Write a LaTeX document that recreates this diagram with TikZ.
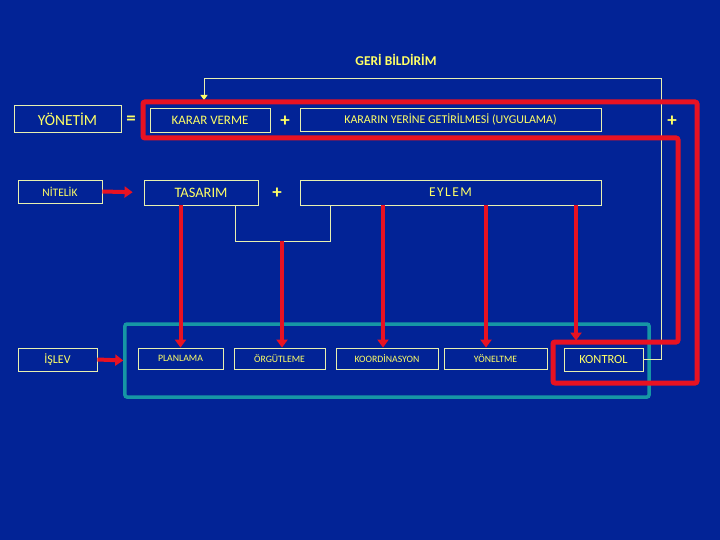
\documentclass[tikz,border=0pt]{standalone}
\usepackage{fontspec}
\setmainfont{Carlito}
\usetikzlibrary{arrows.meta, positioning}
\definecolor{slide}{RGB}{2,35,150}
\definecolor{txtyel}{RGB}{255,255,102}
\definecolor{boxline}{RGB}{232,240,175}
\definecolor{redline}{RGB}{232,18,34}
\definecolor{tealline}{RGB}{22,150,165}

\begin{document}
\begin{tikzpicture}[x=1bp, y=-1bp,
  box/.style={draw=boxline, line width=0.8bp, inner sep=0pt, text=txtyel, align=center},
  big/.style={font=\fontsize{15.5}{15.5}\selectfont},
  mid/.style={font=\fontsize{13.5}{13.5}\selectfont},
  sml/.style={font=\fontsize{9.8}{9.8}\selectfont},
  sign/.style={text=txtyel, inner sep=0pt, font=\fontsize{19}{19}\selectfont\bfseries},
  redarr/.style={draw=redline, line width=4bp, -{Triangle[length=8bp,width=11bp]}},
  fb/.style={draw=boxline, line width=0.8bp, -{Triangle[length=5bp,width=7bp,color=txtyel]}}
]
\fill[slide] (0,0) rectangle (720,540);

% top row
\node[box, big, minimum width=107bp, minimum height=27bp] (yon) at (67.5,119) {YÖNETİM};
\node[sign] (eq) at (131,120) {=};
\node[box, font=\fontsize{13}{13}\selectfont, minimum width=120bp, minimum height=24bp] (karar) at (210,120) {KARAR VERME};
\node[sign] (plus1) at (285,121) {+};
\node[box, font=\fontsize{12}{12}\selectfont, minimum width=301bp, minimum height=23bp] (uyg) at (450.5,119.5) {KARARIN YERİNE GETİRİLMESİ (UYGULAMA)};
\node[sign] (plus2) at (672,121) {+};
\node[text=txtyel, font=\fontsize{13.5}{13.5}\selectfont\bfseries] (geri) at (396,60) {GERİ BİLDİRİM};

% middle row
\node[box, font=\fontsize{11.5}{11.5}\selectfont, minimum width=84bp, minimum height=23bp] (nit) at (60,191.5) {NİTELİK};
\node[box, font=\fontsize{14.5}{14.5}\selectfont, minimum width=114bp, minimum height=25bp] (tas) at (201,192.5) {TASARIM};
\node[sign] (plus3) at (277,193) {+};
\node[box, mid, minimum width=301bp, minimum height=25bp] (eylem) at (450.5,192.5)
  {E\hspace{1.5bp}Y\hspace{1.5bp}L\hspace{1.5bp}E\hspace{1.5bp}M};
\coordinate (brl) at (235,241);
\coordinate (brr) at (330,241);
\draw[boxline, line width=0.8bp] (tas.south -| brl) |- (brr) -- (eylem.south -| brr);

% bottom row
\node[box, font=\fontsize{12}{12}\selectfont, minimum width=79bp, minimum height=23bp] (islev) at (57.5,359.5) {İŞLEV};
\node[draw=tealline, line width=3.5bp, rounded corners=2bp, minimum width=524bp, minimum height=73bp] (grp) at (387,360.5) {};
\node[box, sml, minimum width=85bp, minimum height=21bp] (plan) at (180.5,358.5) {PLANLAMA};
\node[box, sml, minimum width=91bp, minimum height=21bp] (orgut) at (279.5,358.5) {ÖRGÜTLEME};
\node[box, sml, minimum width=102bp, minimum height=21bp] (koord) at (387,358.5) {KOORDİNASYON};
\node[box, sml, minimum width=103bp, minimum height=21bp] (yonelt) at (495.5,358.5) {YÖNELTME};
\node[box, font=\fontsize{12.5}{12.5}\selectfont, minimum width=79bp, minimum height=23bp] (kontrol) at (603.5,359.5) {KONTROL};

% feedback loop
\coordinate (fbtop) at (661,78);
\coordinate (fbend) at (204,100);
\draw[fb] (kontrol.east) -| (fbtop) -| (fbend);

% red frame
\draw[redline, line width=5bp, rounded corners=2bp] (143,102) -- (697,102) -- (697,383) -- (553,383)
  -- (553,342) -- (678,342) -- (678,138) -- (143,138) -- cycle;

% red arrows
\draw[redarr, shorten >=11bp] (nit.east) -- (tas.west);
\draw[redarr] (islev.east) -- (grp.west);
\draw[redarr] (tas.south -| plan.north) -- (plan.north);
\draw[redarr] ([xshift=2.5bp]orgut.north |- brr) -- ([xshift=2.5bp]orgut.north);
\draw[redarr] ([xshift=-4bp]koord.north |- eylem.south) -- ([xshift=-4bp]koord.north);
\draw[redarr] ([xshift=-9.5bp]yonelt.north |- eylem.south) -- ([xshift=-9.5bp]yonelt.north);
\draw[redarr, shorten >=7bp] ([xshift=-27.5bp]kontrol.north |- eylem.south) -- ([xshift=-27.5bp]kontrol.north);
\end{tikzpicture}
\end{document}
